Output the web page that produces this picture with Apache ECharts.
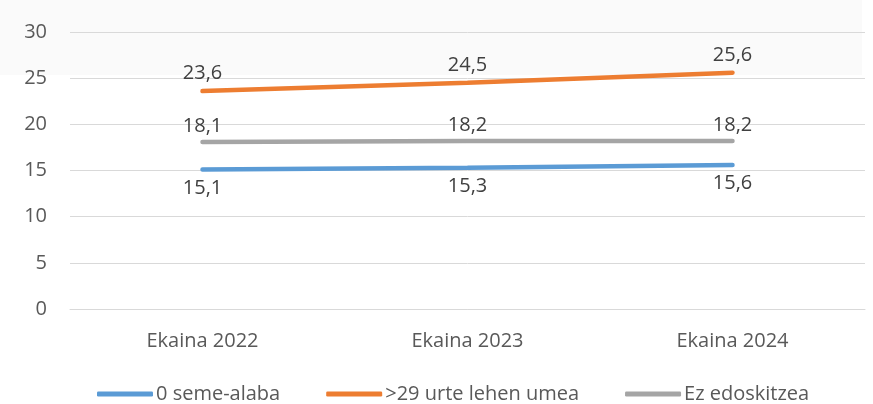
<!DOCTYPE html>
<html><head><meta charset="utf-8">
<script src="https://cdn.jsdelivr.net/npm/echarts@6/dist/echarts.min.js"></script>
<style>html,body{margin:0;padding:0;background:#fff}#c{width:873px;height:404px}</style>
</head><body><div id="c"></div>
<script>
const categories = ['Ekaina 2022', 'Ekaina 2023', 'Ekaina 2024'];
const seriesNames = ['0 seme-alaba', '>29 urte lehen umea', 'Ez edoskitzea'];
const seme = [15.1, 15.3, 15.6];
const urte = [23.6, 24.5, 25.6];
const edosk = [18.1, 18.2, 18.2];
const yTicks = [0, 5, 10, 15, 20, 25, 30];

const FONT = '"Open Sans", sans-serif';
const FS = 20;
const colors = ['#5B9BD5', '#ED7D31', '#A5A5A5'];
const fmt = v => String(v).replace('.', ',');
function mk(name, data, color, pos, off) {
  return {
    name, type: 'line', data, symbol: 'circle', symbolSize: 1, showSymbol: true,
    lineStyle: { color, width: 4.5, cap: 'round' },
    itemStyle: { color, opacity: 0 },
    label: { show: true, position: pos, distance: off, formatter: p => fmt(p.value),
      color: '#404040', fontSize: FS, fontFamily: FONT, opacity: 1 }
  };
}
const chart = echarts.init(document.getElementById('c'));
chart.setOption({
  animation: false,
  graphic: [{ type: 'rect', z: -10, shape: { x: 0, y: 0, width: 862, height: 75 }, style: { fill: '#fafafa' } }],
  grid: { left: 70, right: 8, top: 32, bottom: 95 },
  legend: {
    top: 379, left: 92, itemWidth: 56, itemHeight: 5, itemGap: 46,
    icon: 'roundRect',
    itemStyle: { opacity: 1 },
    textStyle: { color: '#595959', fontSize: FS, fontFamily: FONT, padding: [0, 0, 0, -2] },
    data: seriesNames
  },
  xAxis: {
    type: 'category', data: categories, boundaryGap: true,
    axisLine: { lineStyle: { color: '#d9d9d9', width: 1 } }, axisTick: { show: false },
    axisLabel: { color: '#595959', fontSize: FS, fontFamily: FONT, margin: 22 }
  },
  yAxis: {
    type: 'value', min: yTicks[0], max: yTicks[yTicks.length - 1], interval: 5,
    axisLine: { show: false }, axisTick: { show: false },
    splitLine: { lineStyle: { color: '#d9d9d9', width: 1 } },
    axisLabel: { color: '#595959', fontSize: FS, fontFamily: FONT, margin: 23 }
  },
  series: [
    mk(seriesNames[0], seme, colors[0], 'bottom', 8),
    mk(seriesNames[1], urte, colors[1], 'top', 7),
    mk(seriesNames[2], edosk, colors[2], 'top', 5)
  ]
});
</script></body></html>
